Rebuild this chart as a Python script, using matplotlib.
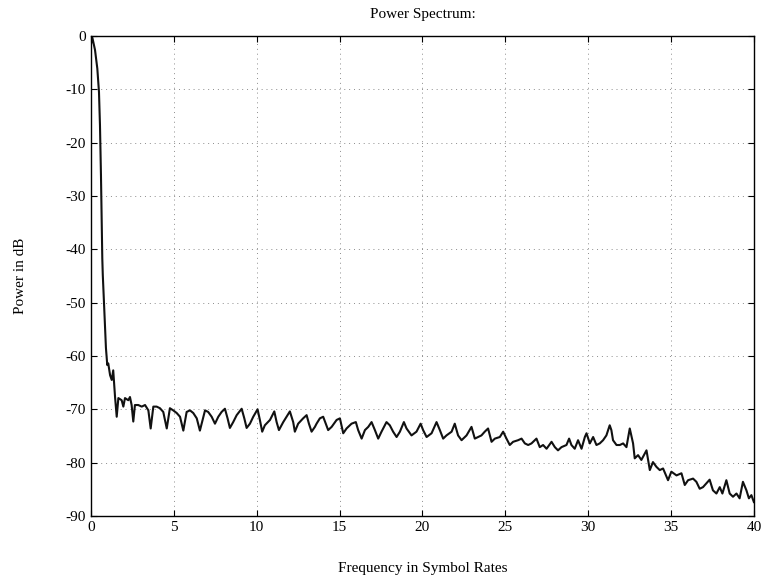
import matplotlib
matplotlib.use("Agg")
import matplotlib.pyplot as plt

# Frequency (symbol rates) and power (dB)
freq = [0.0, 0.08, 0.24, 0.38, 0.48, 0.54, 0.60, 0.65, 0.68, 0.71, 0.78, 0.84, 0.90, 0.98,
        1.04, 1.15, 1.25, 1.34, 1.45, 1.55, 1.65, 1.85, 1.95, 2.05, 2.25, 2.35, 2.45, 2.55,
        2.65, 2.85, 3.06, 3.26, 3.46, 3.60, 3.76, 3.96, 4.16, 4.36, 4.57, 4.76, 4.96, 5.17,
        5.37, 5.57, 5.77, 5.97, 6.17, 6.38, 6.57, 6.88, 7.07, 7.28, 7.48, 7.68, 7.88, 8.08,
        8.24, 8.38, 8.58, 8.79, 9.09, 9.25, 9.39, 9.59, 9.79, 10.05, 10.19, 10.33, 10.49,
        10.80, 11.06, 11.20, 11.34, 11.60, 11.80, 12.00, 12.20, 12.30, 12.50, 12.80, 13.01,
        13.15, 13.31, 13.51, 13.61, 13.81, 14.01, 14.31, 14.52, 14.82, 15.02, 15.22, 15.42,
        15.72, 15.98, 16.12, 16.33, 16.53, 16.73, 16.93, 17.13, 17.33, 17.53, 17.83, 18.03,
        18.23, 18.44, 18.64, 18.88, 19.04, 19.34, 19.64, 19.89, 20.04, 20.25, 20.55, 20.85,
        21.05, 21.25, 21.45, 21.76, 21.95, 22.15, 22.36, 22.66, 22.96, 23.16, 23.36, 23.56,
        23.76, 23.96, 24.17, 24.37, 24.67, 24.87, 25.07, 25.27, 25.47, 25.77, 25.98, 26.18,
        26.38, 26.58, 26.88, 27.08, 27.28, 27.49, 27.79, 27.99, 28.18, 28.39, 28.69, 28.85,
        28.99, 29.19, 29.39, 29.60, 29.80, 29.90, 30.10, 30.30, 30.50, 30.70, 30.90, 31.10,
        31.30, 31.40, 31.50, 31.71, 31.91, 32.11, 32.31, 32.51, 32.71, 32.81, 33.01, 33.21,
        33.52, 33.72, 33.91, 34.12, 34.32, 34.52, 34.82, 35.02, 35.33, 35.63, 35.83, 36.03,
        36.33, 36.53, 36.73, 36.93, 37.13, 37.33, 37.53, 37.74, 37.94, 38.10, 38.34, 38.54,
        38.74, 38.95, 39.14, 39.34, 39.55, 39.70, 39.85, 40.0]

power = [-1.5, -0.3, -2.6, -6.1, -10.5, -16.7, -26.1, -35.5, -41.7, -44.8, -49.9, -54.2, -58.5, -61.7,
         -61.4, -63.6, -64.5, -62.7, -67.7, -71.4, -67.9, -68.3, -69.5, -67.9, -68.3, -67.7, -69.2, -72.3,
         -69.2, -69.2, -69.5, -69.2, -70.2, -73.6, -69.5, -69.5, -69.8, -70.5, -73.6, -69.8, -70.2, -70.7,
         -71.4, -74.0, -70.5, -70.2, -70.7, -71.7, -74.0, -70.2, -70.5, -71.4, -72.7, -71.4, -70.5, -69.9,
         -71.7, -73.5, -72.4, -71.1, -69.9, -71.7, -73.5, -72.7, -71.4, -70.0, -72.0, -74.2, -73.0,
         -72.0, -70.4, -72.4, -73.9, -72.4, -71.4, -70.4, -72.4, -74.2, -72.7, -71.7, -71.1,
         -72.7, -74.2, -73.3, -72.7, -71.7, -71.4, -73.9, -73.3, -72.0, -71.7, -74.5, -73.6,
         -72.7, -72.4, -73.9, -75.5, -73.9, -73.3, -72.4, -73.9, -75.5, -74.2, -72.4, -73.0,
         -74.2, -75.2, -74.2, -72.4, -73.6, -74.9, -74.2, -72.7, -73.9, -75.2, -74.5, -72.4,
         -73.9, -75.5, -74.9, -74.2, -72.7, -74.9, -75.8, -74.9, -73.3, -75.5, -75.2, -74.9,
         -74.2, -73.6, -76.1, -75.5, -75.2, -74.2, -75.5, -76.7, -76.1, -75.8, -75.5, -76.4,
         -76.7, -76.4, -75.5, -77.1, -76.7, -77.4, -76.1, -77.1, -77.7, -77.1, -76.7, -75.5,
         -76.7, -77.4, -75.8, -77.4, -75.2, -74.5, -76.4, -75.2, -76.7, -76.4, -75.8, -74.9,
         -73.0, -73.9, -75.8, -76.7, -76.7, -76.4, -77.1, -73.6, -76.4, -79.2, -78.6, -79.5,
         -77.7, -81.4, -79.9, -80.8, -81.4, -81.1, -83.3, -81.7, -82.4, -82.0, -84.2, -83.3,
         -83.0, -83.6, -84.9, -84.6, -83.9, -83.2, -85.2, -85.8, -84.6, -85.8, -83.3, -85.8,
         -86.4, -85.8, -86.7, -83.6, -85.2, -86.7, -86.1, -87.4]

xticks = [0, 5, 10, 15, 20, 25, 30, 35, 40]
yticks = [0, -10, -20, -30, -40, -50, -60, -70, -80, -90]

plt.rcParams['font.family'] = ['Liberation Serif', 'DejaVu Serif']

fig = plt.figure(figsize=(7.74, 5.81), dpi=100)
ax = fig.add_axes([0.1176, 0.112, 0.8564, 0.826])

ax.plot(freq, power, color='#111111', linewidth=1.5)

ax.set_xlim(0, 40)
ax.set_ylim(-90, 0)
ax.set_xticks(xticks)
ax.set_yticks(yticks)
ax.set_xticklabels([str(v) for v in xticks])
ax.set_yticklabels([str(v) for v in yticks])
ax.tick_params(direction='in', top=True, right=True, length=4, width=0.8,
               labelsize=11, colors='black')
ax.grid(True, linestyle=(0, (1, 4)), color='0.55', linewidth=0.7)

for s in ax.spines.values():
    s.set_linewidth(1.0)
    s.set_color('black')

ax.set_title('Power Spectrum:', fontsize=11, pad=13)
ax.set_xlabel('Frequency in Symbol Rates', fontsize=11, labelpad=20)
ax.set_ylabel('Power in dB', fontsize=11, labelpad=28)

fig.savefig('out.png', dpi=100)
